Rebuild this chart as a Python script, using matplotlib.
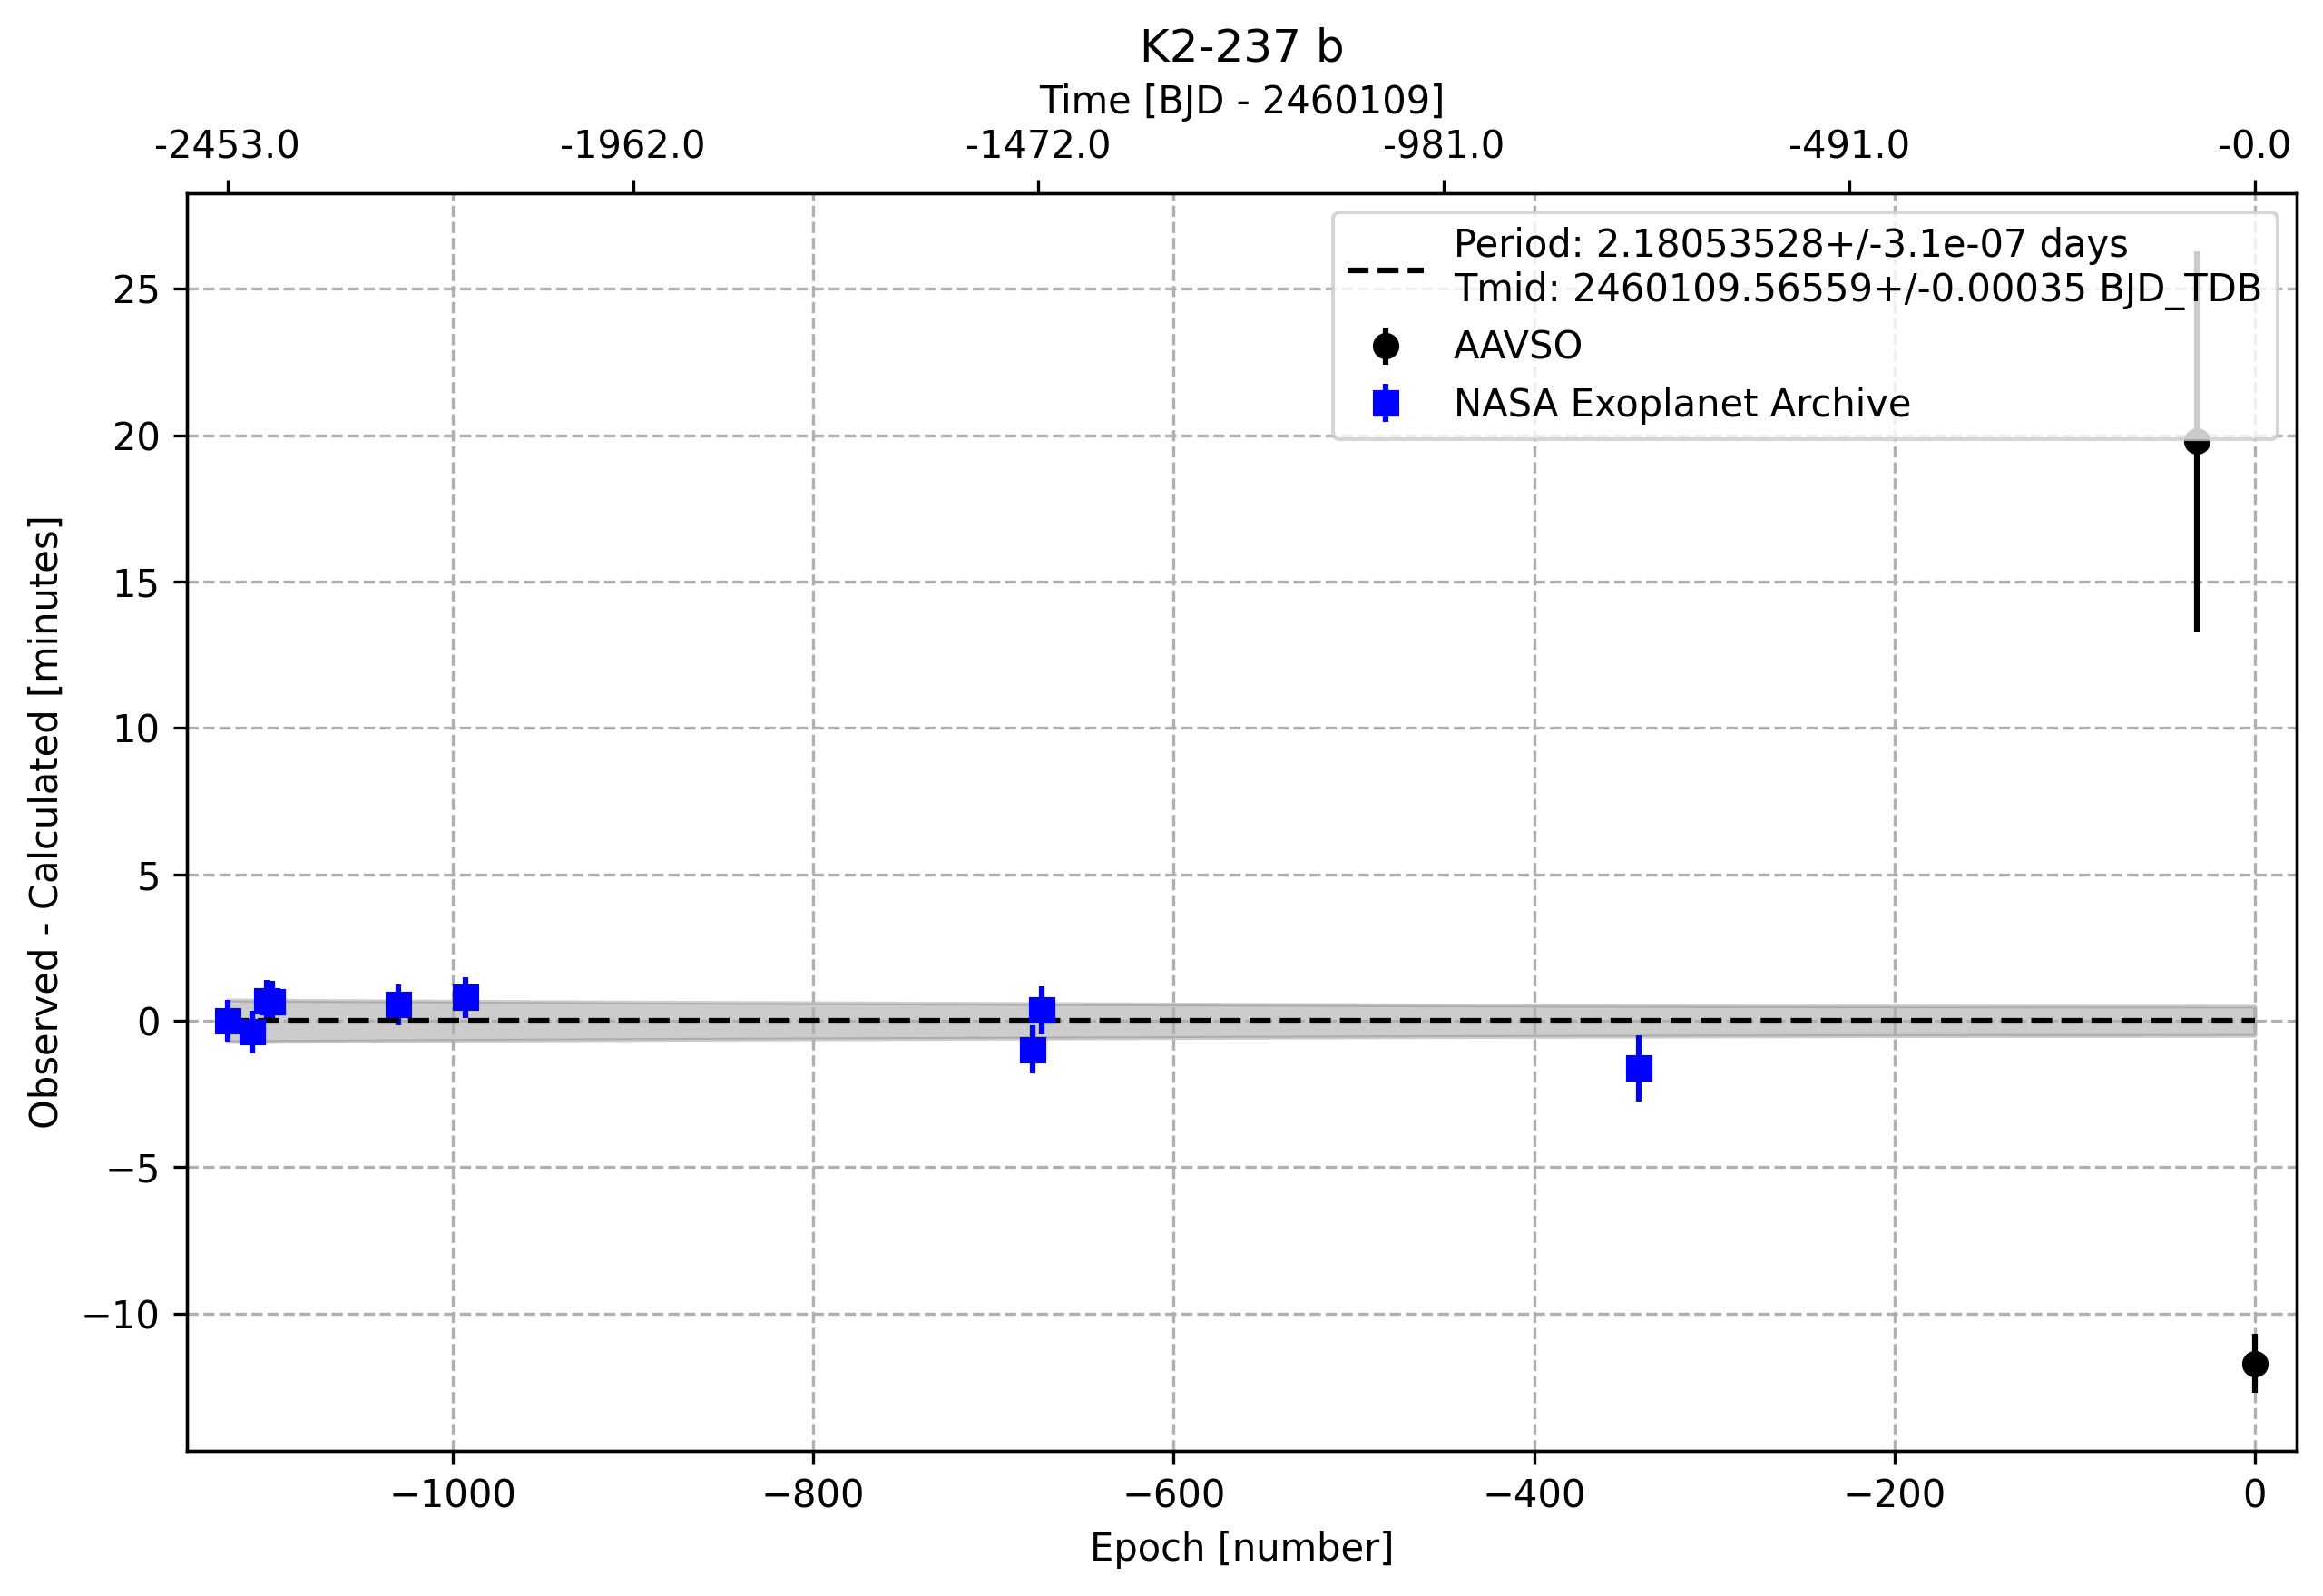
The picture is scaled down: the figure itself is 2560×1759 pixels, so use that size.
import matplotlib
matplotlib.use("Agg")
import matplotlib.pyplot as plt
import numpy as np

# NASA Exoplanet Archive points
nasa_epoch = [-1125, -1111, -1103, -1100, -1030, -993, -678, -673, -342]
nasa_oc = [0.0, -0.38, 0.69, 0.66, 0.55, 0.80, -0.98, 0.36, -1.62]
nasa_err = [0.70, 0.72, 0.72, 0.72, 0.70, 0.69, 0.82, 0.81, 1.13]

# AAVSO points
aavso_epoch = [-32, 0]
aavso_oc = [19.8, -11.7]
aavso_err = [6.5, 1.0]

# ephemeris uncertainty band (minutes)
band_epoch = [-1125, -900, -675, -450, -225, 0]
band_sigma = [0.71, 0.64, 0.59, 0.54, 0.51, 0.50]

top_ticks = [-1125, -900, -675, -450, -225, 0]
top_labels = ["-2453.0", "-1962.0", "-1472.0", "-981.0", "-491.0", "-0.0"]

legend_fit = "Period: 2.18053528+/-3.1e-07 days\nTmid: 2460109.56559+/-0.00035 BJD_TDB"

W, H = 2560, 1759
fig = plt.figure(figsize=(W / 300, H / 300), dpi=300)
ax = fig.add_axes([206 / W, (H - 1599) / H, (2531 - 206) / W, (1599 - 213) / H])

be = np.array(band_epoch)
bs = np.array(band_sigma)
ax.fill_between(be, -bs, bs, color="gray", alpha=0.4)

ax.errorbar(aavso_epoch, aavso_oc, yerr=aavso_err, fmt="o", color="black",
            ls="none", label="AAVSO")
ax.errorbar(nasa_epoch, nasa_oc, yerr=nasa_err, fmt="s", color="blue",
            ls="none", label="NASA Exoplanet Archive")
ax.plot(be, np.zeros_like(be, dtype=float), "k--", label=legend_fit)

ax.set_xlim(-1147.5, 23.2)
ax.set_ylim(-14.69, 28.27)
ax.grid(True, ls="--")
ax.set_xlabel("Epoch [number]")
ax.set_ylabel("Observed - Calculated [minutes]")

handles, labels = ax.get_legend_handles_labels()
ax.legend(handles, labels, loc="upper right")

ax2 = ax.twiny()
ax2.set_xlim(ax.get_xlim())
ax2.set_xticks(top_ticks)
ax2.set_xticklabels(top_labels)
ax2.set_xlabel("Time [BJD - 2460109]")
ax2.set_title("K2-237 b")

fig.savefig("out.png", dpi=300)
